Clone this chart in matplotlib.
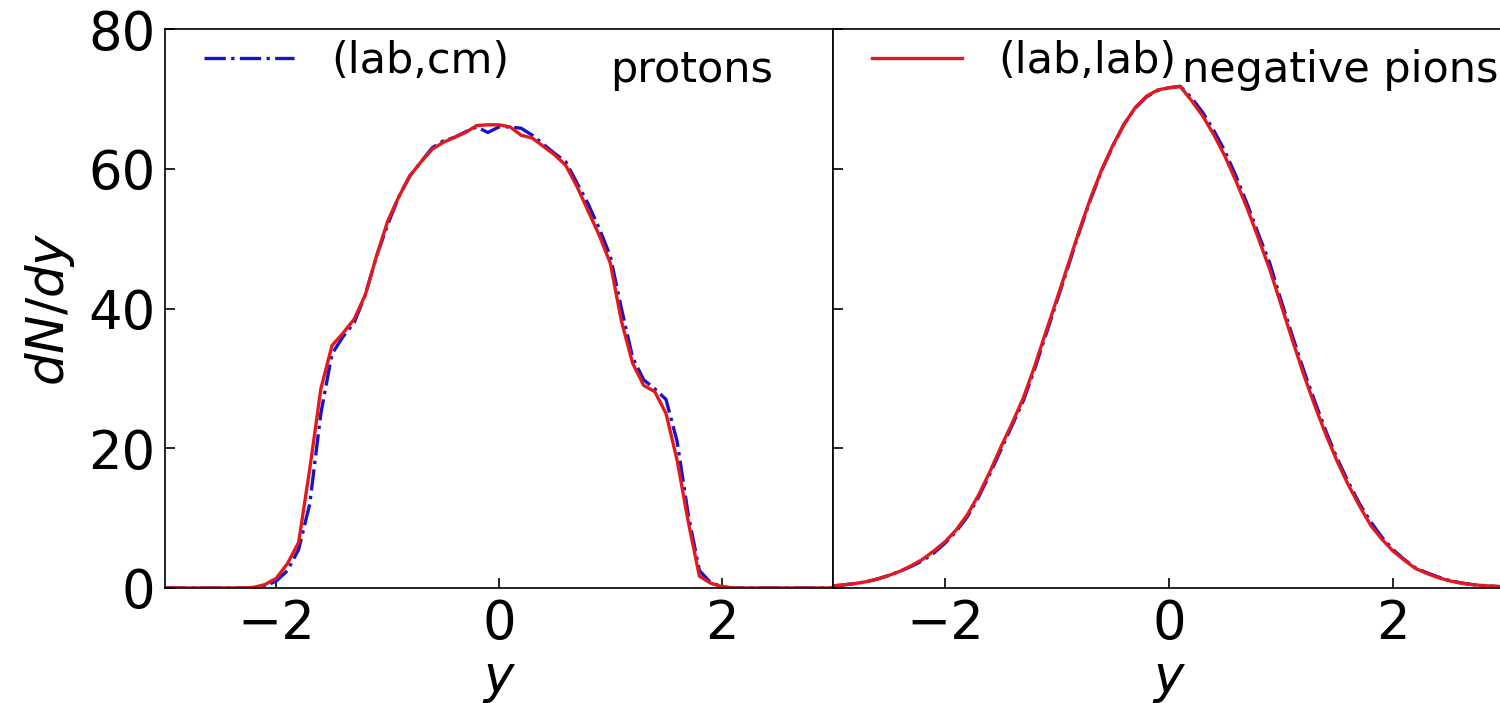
import matplotlib
matplotlib.use("Agg")
import matplotlib.pyplot as plt
import numpy as np

# rapidity grid, -3 .. 3 in steps of 0.1
y_grid = np.round(np.arange(-3.0, 3.01, 0.1), 2)

# protons, dN/dy
protons_lab_cm = [0, 0, 0, 0, 0, 0, 0, 0, 0.05, 0.3,
                  1.0, 2.5, 5.5, 12, 25, 33.5, 36, 38, 42, 47.5,
                  52, 56, 59, 61, 63, 64, 64.5, 65.3, 66, 65.2,
                  66, 66, 65.8, 64.8, 63.5, 62.2, 61, 58, 55, 51.5,
                  47.5, 40, 33, 29.8, 28.5, 27, 21, 10.5, 2.5, 0.8,
                  0.2, 0, 0, 0, 0, 0, 0, 0, 0, 0, 0]
protons_lab_lab = [0, 0, 0, 0, 0, 0, 0, 0, 0.1, 0.5,
                   1.4, 3.5, 6.5, 17, 28.5, 34.7, 36.5, 38.5, 42, 47.5,
                   52.5, 56, 59, 61, 62.8, 63.8, 64.5, 65.2, 66.2, 66.3,
                   66.3, 66, 64.8, 64.4, 63.2, 62, 60.5, 57.5, 54, 50.5,
                   46.5, 38.2, 32.2, 29, 28.1, 25, 18.3, 9.5, 1.7, 0.7,
                   0.2, 0, 0, 0, 0, 0, 0, 0, 0, 0, 0]

# negative pions, dN/dy
pions_lab_cm = [0.3, 0.45, 0.65, 0.9, 1.3, 1.8, 2.4, 3.1, 3.9, 5.0,
                6.4, 8.1, 10.2, 13.0, 16.3, 19.8, 23.3, 26.8, 31.3, 36.2,
                41.1, 46.0, 51.0, 55.6, 59.8, 63.3, 66.4, 68.7, 70.3, 71.2,
                71.6, 71.8, 70.2, 68.1, 65.5, 62.5, 58.9, 54.9, 50.6, 46.5,
                41.2, 36.2, 31.3, 26.8, 22.5, 18.6, 15.2, 12.1, 9.5, 7.3,
                5.5, 4.1, 2.9, 2.2, 1.6, 1.1, 0.75, 0.5, 0.35, 0.25, 0.15]
pions_lab_lab = [0.3, 0.45, 0.65, 0.9, 1.3, 1.8, 2.4, 3.2, 4.1, 5.3,
                 6.6, 8.3, 10.5, 13.3, 16.6, 20.2, 23.6, 27.2, 31.7, 36.6,
                 41.4, 46.3, 51.2, 55.8, 59.9, 63.4, 66.4, 68.8, 70.4, 71.3,
                 71.6, 71.8, 69.8, 67.6, 64.9, 61.8, 58.2, 54.3, 50.0, 45.6,
                 40.6, 35.6, 30.7, 26.2, 22.0, 18.2, 14.8, 11.8, 9.0, 7.0,
                 5.3, 4.0, 2.8, 2.1, 1.5, 1.05, 0.72, 0.5, 0.35, 0.25, 0.15]

blue = '#1515cc'
red = '#e3191e'

fig = plt.figure(figsize=(15, 7.03), dpi=100)
ax1 = fig.add_axes([0.110, 0.1636, 0.4453, 0.795])
ax2 = fig.add_axes([0.5553, 0.1636, 0.448, 0.795], sharey=ax1)

tick_fs = 38
text_fs = 31

panels = [(ax1, protons_lab_cm, protons_lab_lab, 'protons', 0.666),
          (ax2, pions_lab_cm, pions_lab_lab, 'negative pions', 0.52)]
for ax, cm, lab, name, tx in panels:
    ax.plot(y_grid, cm, color=blue, ls='-.', lw=2.4, label='(lab,cm)')
    ax.plot(y_grid, lab, color=red, ls='-', lw=2.4, label='(lab,lab)')
    ax.set_xlim(-3, 3)
    ax.set_ylim(0, 80)
    ax.set_xticks([-2, 0, 2])
    ax.set_yticks([0, 20, 40, 60, 80])
    ax.tick_params(direction='in', length=7, width=1.2, labelsize=tick_fs, pad=7)
    for s in ax.spines.values():
        s.set_linewidth(1.2)
    ax.set_xlabel('$y$', fontsize=37, labelpad=4)
    ax.text(tx, 0.905, name, transform=ax.transAxes, fontsize=text_fs,
            ha='left', va='baseline')

ax1.legend(handles=[ax1.lines[0]], loc='upper left', frameon=False,
           fontsize=text_fs, handlelength=2.1, handletextpad=0.85,
           bbox_to_anchor=(0.0, 1.05), borderaxespad=0.5)
ax2.legend(handles=[ax2.lines[1]], loc='upper left', frameon=False,
           fontsize=text_fs, handlelength=2.1, handletextpad=0.85,
           bbox_to_anchor=(0.0, 1.05), borderaxespad=0.5)

ax1.set_ylabel('$dN/dy$', fontsize=37, labelpad=8)
ax2.tick_params(labelleft=False)

fig.savefig('out.png', dpi=100)
